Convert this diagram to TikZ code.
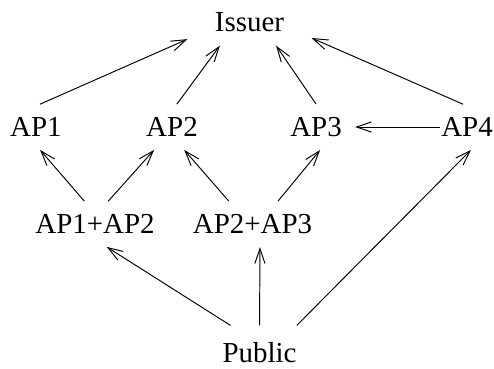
\documentclass[tikz,border=0pt]{standalone}
\usepackage{fontspec}
\setmainfont{Liberation Serif}
\usetikzlibrary{arrows.meta}
\begin{document}
\begin{tikzpicture}[lbl/.style={inner sep=5.5pt, outer sep=0pt, font=\fontsize{12}{14}\selectfont},
		arr/.style={-{Straight Barb[length=6.2pt,width=4.2pt]}}]
				\useasboundingbox (0,0) rectangle (7.195,5.360);
				\node[lbl, inner xsep=11.4pt, inner ysep=5.6pt] (iss) at (3.634,5.032) {Issuer};
				\node[lbl] (ap1) at (0.524,3.510) {AP1};
				\node[lbl] (ap2) at (2.505,3.510) {AP2};
				\node[lbl] (ap3) at (4.603,3.510) {AP3};
				\node[lbl] (ap4) at (6.802,3.510) {AP4};
				\node[lbl] (ap12) at (1.384,2.097) {AP1+AP2};
				\node[lbl] (ap23) at (3.678,2.097) {AP2+AP3};
				\node[lbl, inner ysep=7pt] (pub) at (3.780,0.226) {Public};
				\foreach \a/\b in {ap1.80/iss.195, ap2.78/iss.218, ap3.north/iss.319, ap4.100/iss.346,
						ap12.115/ap1.280, ap12.60/ap2.232, ap23.136/ap2.298, ap23.42/ap3.280,
						pub.137/ap12.297, pub.north/ap23.288, pub.36/ap4.280}
					\draw[arr] (\a) -- (\b); %anchors
				\draw[arr, shorten <=-5pt] (ap4) -- (ap3);
			\end{tikzpicture}
\end{document}
